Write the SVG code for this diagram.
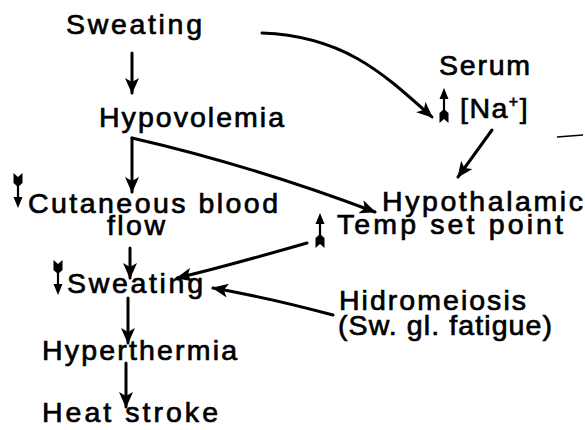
<svg xmlns="http://www.w3.org/2000/svg" xmlns:xlink="http://www.w3.org/1999/xlink" width="585" height="430" viewBox="0 0 585 430">
<style>
text{font-family:"Liberation Sans",Arial,Helvetica,sans-serif;font-size:28.5px;fill:#000;stroke:#000;stroke-width:0.7}
.c{fill:none;stroke:#000;stroke-width:3;stroke-linecap:round}
</style>
<defs>
<marker id="ah" markerUnits="userSpaceOnUse" markerWidth="16" markerHeight="14" refX="15" refY="7" orient="auto">
<path d="M0,0 L16,7 L0,14 L4,7 Z" fill="#000"/>
</marker>
<g id="up">
<line x1="5" y1="4" x2="5" y2="30" stroke="#000" stroke-width="2.2"/>
<path d="M5,0 L9.5,11 L0.5,11 Z" fill="#000"/>
<path d="M5,21 L9.5,25 L9.5,35 L5,31 L0.5,35 L0.5,25 Z" fill="#000"/>
</g>
<g id="down">
<line x1="5" y1="5" x2="5" y2="31" stroke="#000" stroke-width="2.2"/>
<path d="M5,35 L9.5,24 L0.5,24 Z" fill="#000"/>
<path d="M5,14 L9.5,10 L9.5,0 L5,4 L0.5,0 L0.5,10 Z" fill="#000"/>
</g>
</defs>
<rect width="585" height="430" fill="#fff"/>

<g id="connectors">
<path class="c" d="M132,53 L132,93" marker-end="url(#ah)"/>
<path class="c" d="M262,33 C345,36 385,75 432,117" marker-end="url(#ah)"/>
<path class="c" d="M132,138 L132,192" marker-end="url(#ah)"/>
<path class="c" d="M132,138 Q250,165 375,212" marker-end="url(#ah)"/>
<path class="c" d="M492,130 L458,177" marker-end="url(#ah)"/>
<path class="c" d="M307,243 Q220,268 177,278" marker-end="url(#ah)"/>
<path class="c" d="M333,315 Q270,298 213,288" marker-end="url(#ah)"/>
<path class="c" d="M130,248 L130,278" marker-end="url(#ah)"/>
<path class="c" d="M128,298 L128,343" marker-end="url(#ah)"/>
<path class="c" d="M126,363 L126,407" marker-end="url(#ah)"/>
</g>

<g id="sweating-top"><text x="66" y="34" textLength="136" lengthAdjust="spacing">Sweating</text></g>
<g id="hypovolemia"><text x="99" y="127" textLength="185" lengthAdjust="spacing">Hypovolemia</text></g>
<g id="serum-na">
<text x="439" y="75" textLength="91" lengthAdjust="spacing">Serum</text>
<use xlink:href="#up" href="#up" x="439" y="88"/>
<text x="460" y="118" style="letter-spacing:1.5px">[Na<tspan font-size="16" dy="-11">+</tspan><tspan dy="11">]</tspan></text>
</g>
<g id="cutaneous">
<use xlink:href="#down" href="#down" x="13" y="173"/>
<text x="28" y="213" textLength="250" lengthAdjust="spacing">Cutaneous blood</text>
<text x="107" y="235" textLength="58" lengthAdjust="spacing">flow</text>
</g>
<g id="hypothalamic">
<text x="382" y="211" textLength="201" lengthAdjust="spacing">Hypothalamic</text>
<use xlink:href="#up" href="#up" x="315" y="213"/>
<text x="337" y="234" textLength="226" lengthAdjust="spacing">Temp set point</text>
</g>
<g id="sweating-low">
<use xlink:href="#down" href="#down" x="53" y="260"/>
<text x="67" y="293" textLength="136" lengthAdjust="spacing">Sweating</text>
</g>
<g id="hidromeiosis">
<text x="339" y="310" textLength="187" lengthAdjust="spacing">Hidromeiosis</text>
<text x="338" y="335" textLength="214" lengthAdjust="spacing">(Sw. gl. fatigue)</text>
</g>
<g id="hyperthermia"><text x="42" y="360" textLength="195" lengthAdjust="spacing">Hyperthermia</text></g>
<g id="heat-stroke"><text x="42" y="422" textLength="176" lengthAdjust="spacing">Heat stroke</text></g>

<line x1="557" y1="137" x2="583" y2="135" stroke="#000" stroke-width="1.5"/>
</svg>
